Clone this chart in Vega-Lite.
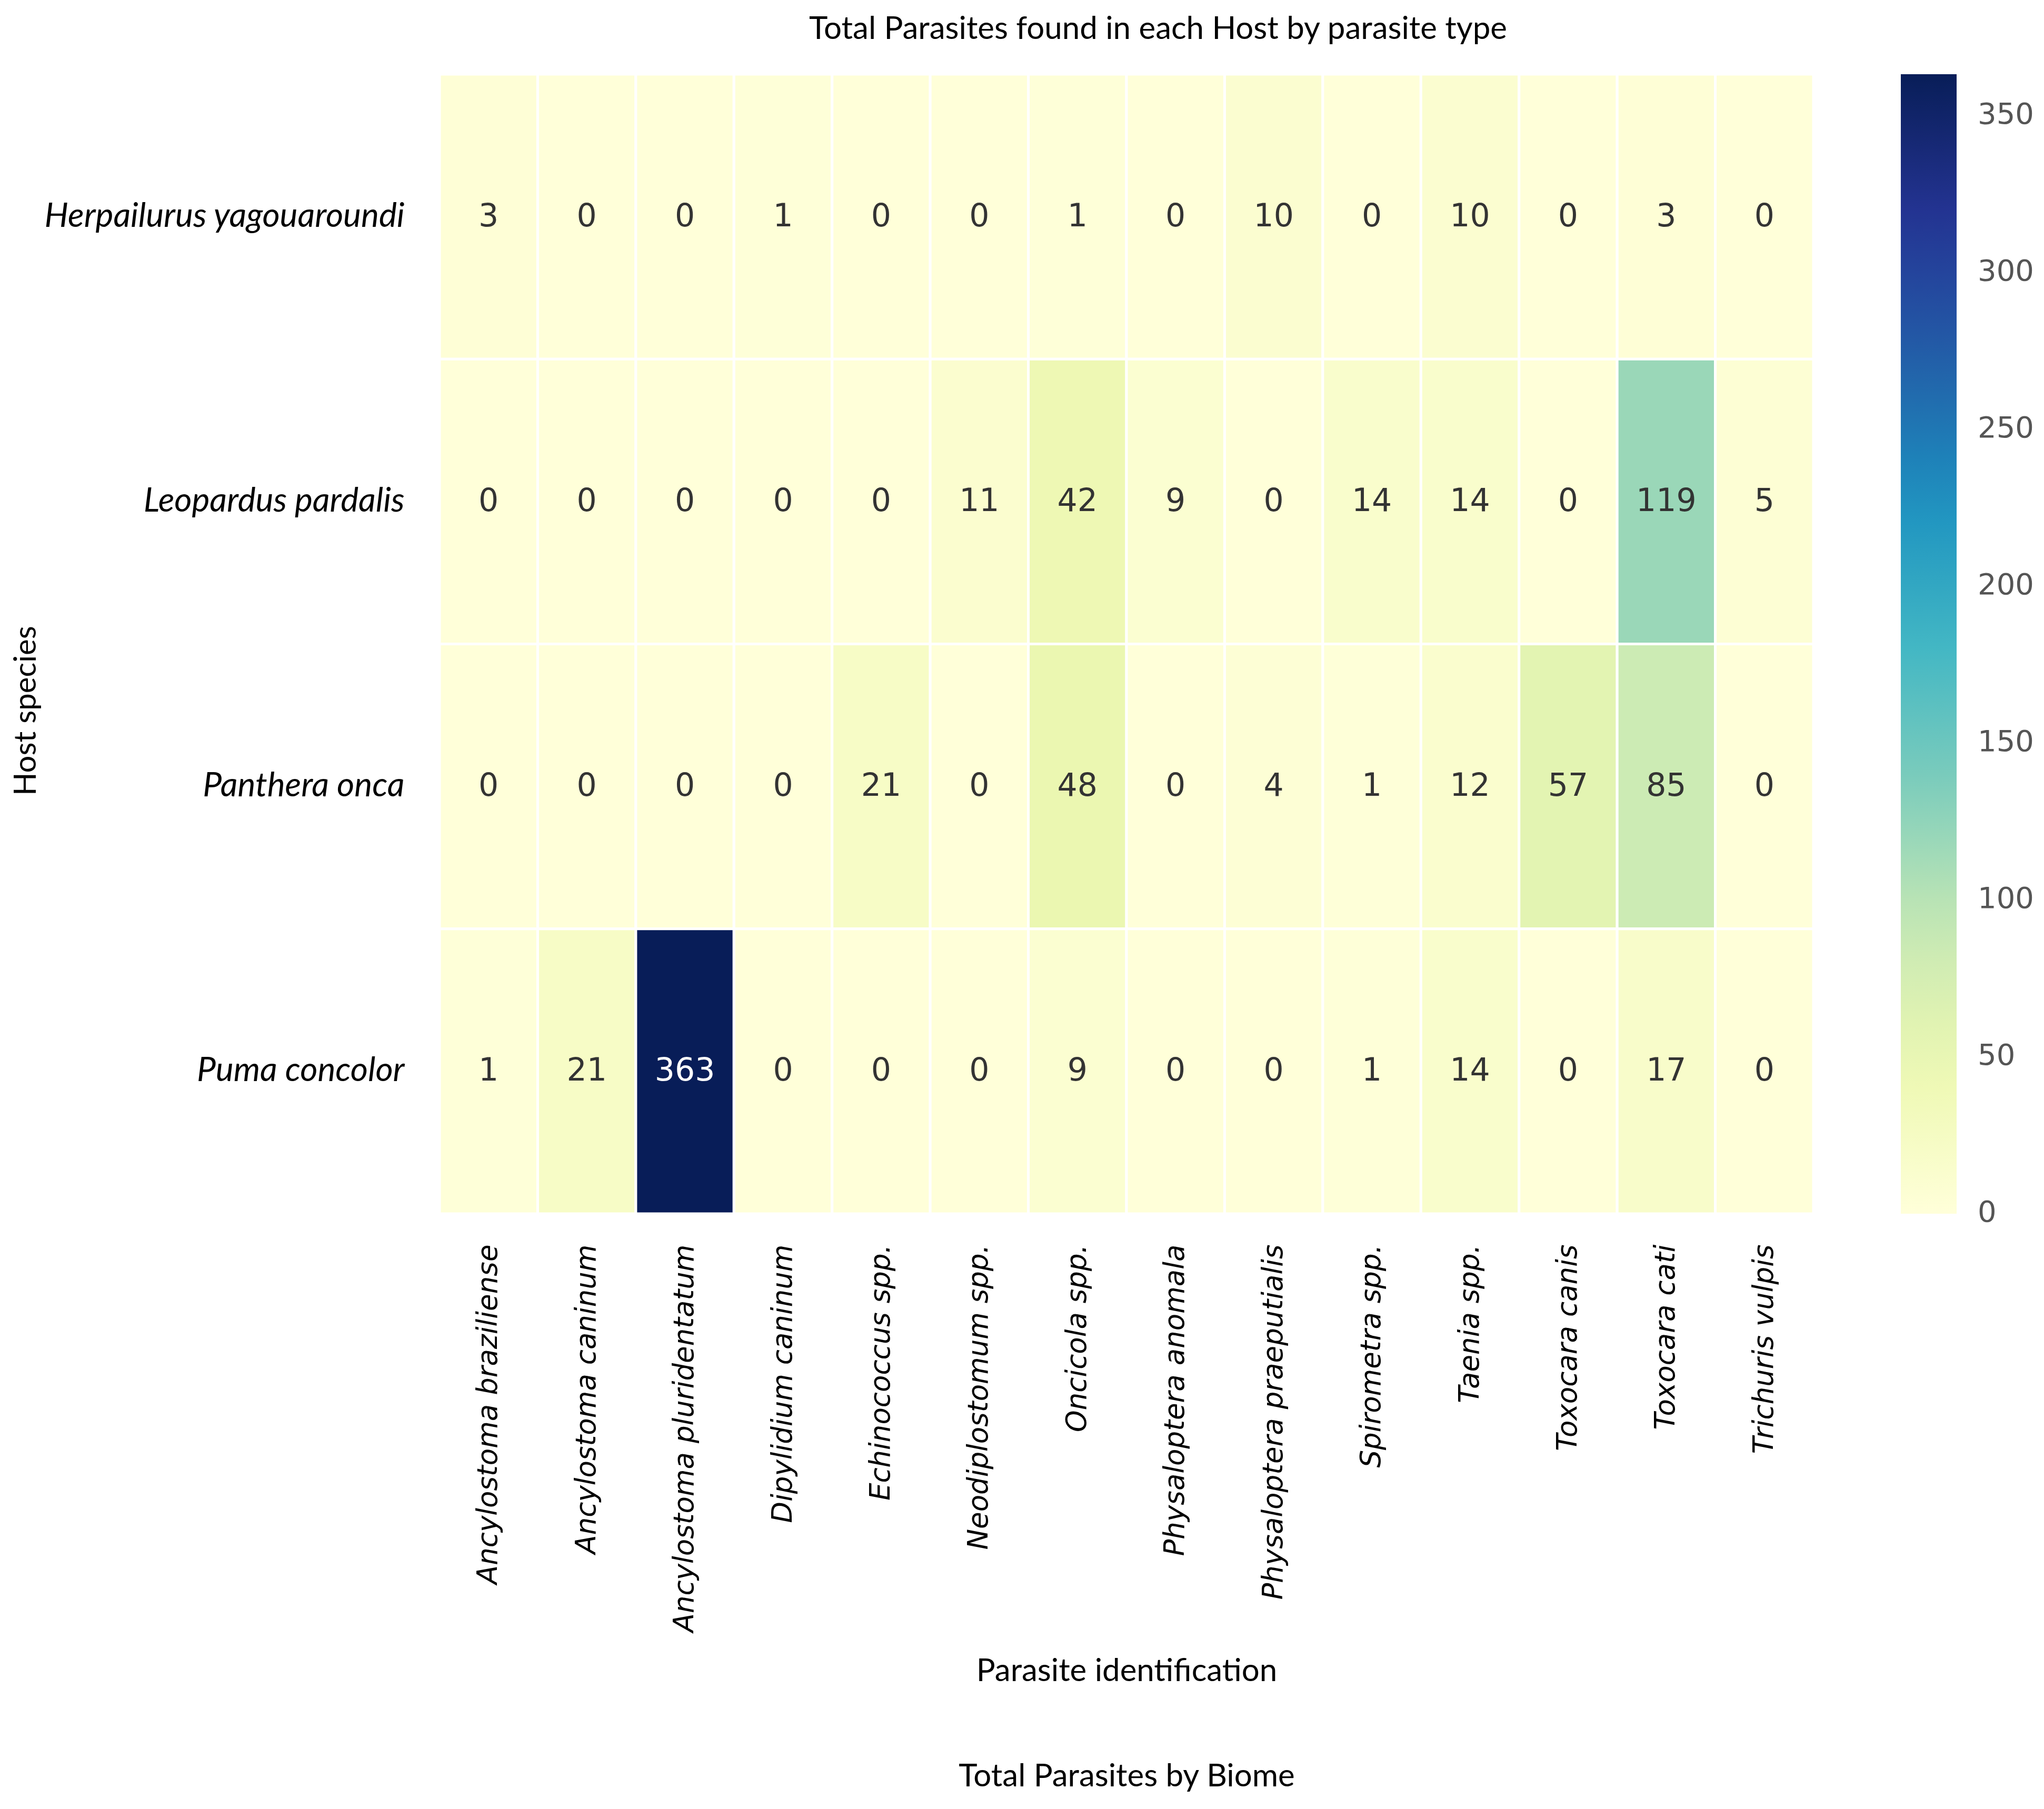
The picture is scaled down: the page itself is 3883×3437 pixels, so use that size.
{
  "$schema": "https://vega.github.io/schema/vega-lite/v6.json",
  "autosize": {"type": "none"},
  "padding": {"left": 835, "top": 141, "right": 438, "bottom": 1131},
  "width": 2610,
  "height": 2165,
  "background": "white",
  "title": {
    "text": "Total Parasites found in each Host by parasite type",
    "font": "Lato",
    "fontSize": 60,
    "fontWeight": "normal",
    "color": "black",
    "anchor": "middle",
    "offset": 52,
    "dx": 60
  },
  "data": {
    "values": [
      {"host": "Herpailurus yagouaroundi", "parasite": "Ancylostoma braziliense", "count": 3},
      {"host": "Herpailurus yagouaroundi", "parasite": "Ancylostoma caninum", "count": 0},
      {"host": "Herpailurus yagouaroundi", "parasite": "Ancylostoma pluridentatum", "count": 0},
      {"host": "Herpailurus yagouaroundi", "parasite": "Dipylidium caninum", "count": 1},
      {"host": "Herpailurus yagouaroundi", "parasite": "Echinococcus spp.", "count": 0},
      {"host": "Herpailurus yagouaroundi", "parasite": "Neodiplostomum spp.", "count": 0},
      {"host": "Herpailurus yagouaroundi", "parasite": "Oncicola spp.", "count": 1},
      {"host": "Herpailurus yagouaroundi", "parasite": "Physaloptera anomala", "count": 0},
      {"host": "Herpailurus yagouaroundi", "parasite": "Physaloptera praeputialis", "count": 10},
      {"host": "Herpailurus yagouaroundi", "parasite": "Spirometra spp.", "count": 0},
      {"host": "Herpailurus yagouaroundi", "parasite": "Taenia spp.", "count": 10},
      {"host": "Herpailurus yagouaroundi", "parasite": "Toxocara canis", "count": 0},
      {"host": "Herpailurus yagouaroundi", "parasite": "Toxocara cati", "count": 3},
      {"host": "Herpailurus yagouaroundi", "parasite": "Trichuris vulpis", "count": 0},
      {"host": "Leopardus pardalis", "parasite": "Ancylostoma braziliense", "count": 0},
      {"host": "Leopardus pardalis", "parasite": "Ancylostoma caninum", "count": 0},
      {"host": "Leopardus pardalis", "parasite": "Ancylostoma pluridentatum", "count": 0},
      {"host": "Leopardus pardalis", "parasite": "Dipylidium caninum", "count": 0},
      {"host": "Leopardus pardalis", "parasite": "Echinococcus spp.", "count": 0},
      {"host": "Leopardus pardalis", "parasite": "Neodiplostomum spp.", "count": 11},
      {"host": "Leopardus pardalis", "parasite": "Oncicola spp.", "count": 42},
      {"host": "Leopardus pardalis", "parasite": "Physaloptera anomala", "count": 9},
      {"host": "Leopardus pardalis", "parasite": "Physaloptera praeputialis", "count": 0},
      {"host": "Leopardus pardalis", "parasite": "Spirometra spp.", "count": 14},
      {"host": "Leopardus pardalis", "parasite": "Taenia spp.", "count": 14},
      {"host": "Leopardus pardalis", "parasite": "Toxocara canis", "count": 0},
      {"host": "Leopardus pardalis", "parasite": "Toxocara cati", "count": 119},
      {"host": "Leopardus pardalis", "parasite": "Trichuris vulpis", "count": 5},
      {"host": "Panthera onca", "parasite": "Ancylostoma braziliense", "count": 0},
      {"host": "Panthera onca", "parasite": "Ancylostoma caninum", "count": 0},
      {"host": "Panthera onca", "parasite": "Ancylostoma pluridentatum", "count": 0},
      {"host": "Panthera onca", "parasite": "Dipylidium caninum", "count": 0},
      {"host": "Panthera onca", "parasite": "Echinococcus spp.", "count": 21},
      {"host": "Panthera onca", "parasite": "Neodiplostomum spp.", "count": 0},
      {"host": "Panthera onca", "parasite": "Oncicola spp.", "count": 48},
      {"host": "Panthera onca", "parasite": "Physaloptera anomala", "count": 0},
      {"host": "Panthera onca", "parasite": "Physaloptera praeputialis", "count": 4},
      {"host": "Panthera onca", "parasite": "Spirometra spp.", "count": 1},
      {"host": "Panthera onca", "parasite": "Taenia spp.", "count": 12},
      {"host": "Panthera onca", "parasite": "Toxocara canis", "count": 57},
      {"host": "Panthera onca", "parasite": "Toxocara cati", "count": 85},
      {"host": "Panthera onca", "parasite": "Trichuris vulpis", "count": 0},
      {"host": "Puma concolor", "parasite": "Ancylostoma braziliense", "count": 1},
      {"host": "Puma concolor", "parasite": "Ancylostoma caninum", "count": 21},
      {"host": "Puma concolor", "parasite": "Ancylostoma pluridentatum", "count": 363},
      {"host": "Puma concolor", "parasite": "Dipylidium caninum", "count": 0},
      {"host": "Puma concolor", "parasite": "Echinococcus spp.", "count": 0},
      {"host": "Puma concolor", "parasite": "Neodiplostomum spp.", "count": 0},
      {"host": "Puma concolor", "parasite": "Oncicola spp.", "count": 9},
      {"host": "Puma concolor", "parasite": "Physaloptera anomala", "count": 0},
      {"host": "Puma concolor", "parasite": "Physaloptera praeputialis", "count": 0},
      {"host": "Puma concolor", "parasite": "Spirometra spp.", "count": 1},
      {"host": "Puma concolor", "parasite": "Taenia spp.", "count": 14},
      {"host": "Puma concolor", "parasite": "Toxocara canis", "count": 0},
      {"host": "Puma concolor", "parasite": "Toxocara cati", "count": 17},
      {"host": "Puma concolor", "parasite": "Trichuris vulpis", "count": 0}
    ]
  },
  "encoding": {
    "x": {
      "field": "parasite",
      "type": "nominal",
      "sort": null,
      "scale": {"paddingInner": 0, "paddingOuter": 0},
      "axis": {
        "title": ["Parasite identification", "Total Parasites by Biome"],
        "titleFont": "Lato",
        "titleFontSize": 60,
        "titleFontWeight": "normal",
        "titleColor": "black",
        "titleLineHeight": 200,
        "titleBaseline": "top",
        "titleY": 840,
        "labelAngle": -90,
        "labelFont": "DejaVu Sans",
        "labelFontStyle": "italic",
        "labelFontSize": 53,
        "labelColor": "black",
        "labelPadding": 58,
        "labelLimit": 0,
        "ticks": false,
        "domain": false,
        "grid": false
      }
    },
    "y": {
      "field": "host",
      "type": "nominal",
      "sort": null,
      "scale": {"paddingInner": 0, "paddingOuter": 0},
      "axis": {
        "title": "Host species",
        "titleFont": "Lato",
        "titleFontSize": 58,
        "titleFontWeight": "normal",
        "titleColor": "black",
        "titleBaseline": "middle",
        "titleX": -785,
        "titleY": 1209,
        "labelFont": "Lato",
        "labelFontStyle": "italic",
        "labelFontSize": 64,
        "labelColor": "black",
        "labelPadding": 67,
        "labelLimit": 0,
        "ticks": false,
        "domain": false,
        "grid": false
      }
    }
  },
  "layer": [
    {
      "mark": {"type": "rect", "stroke": "white", "strokeWidth": 5},
      "encoding": {
        "color": {
          "field": "count",
          "type": "quantitative",
          "scale": {
            "domain": [-0.3, 363],
            "range": ["#ffffd9", "#edf8b1", "#c7e9b4", "#7fcdbb", "#41b6c4", "#1d91c0", "#225ea8", "#253494", "#081d58"],
            "interpolate": "rgb"
          },
          "legend": {
            "title": null,
            "orient": "none",
            "legendX": 2776,
            "legendY": 0,
            "direction": "vertical",
            "gradientLength": 2165,
            "gradientThickness": 106,
            "gradientStrokeWidth": 0,
            "values": [0, 50, 100, 150, 200, 250, 300, 350],
            "labelFont": "DejaVu Sans",
            "labelFontSize": 56,
            "labelColor": "#555555",
            "labelOffset": 40,
            "labelBaseline": "middle",
            "labelOverlap": false
          }
        }
      }
    },
    {
      "mark": {"type": "text", "font": "DejaVu Sans", "fontSize": 60},
      "encoding": {
        "text": {"field": "count", "type": "quantitative"},
        "color": {
          "condition": {"test": "datum.count > 200", "value": "white"},
          "value": "#333333"
        }
      }
    }
  ],
  "config": {"view": {"stroke": null}}
}
